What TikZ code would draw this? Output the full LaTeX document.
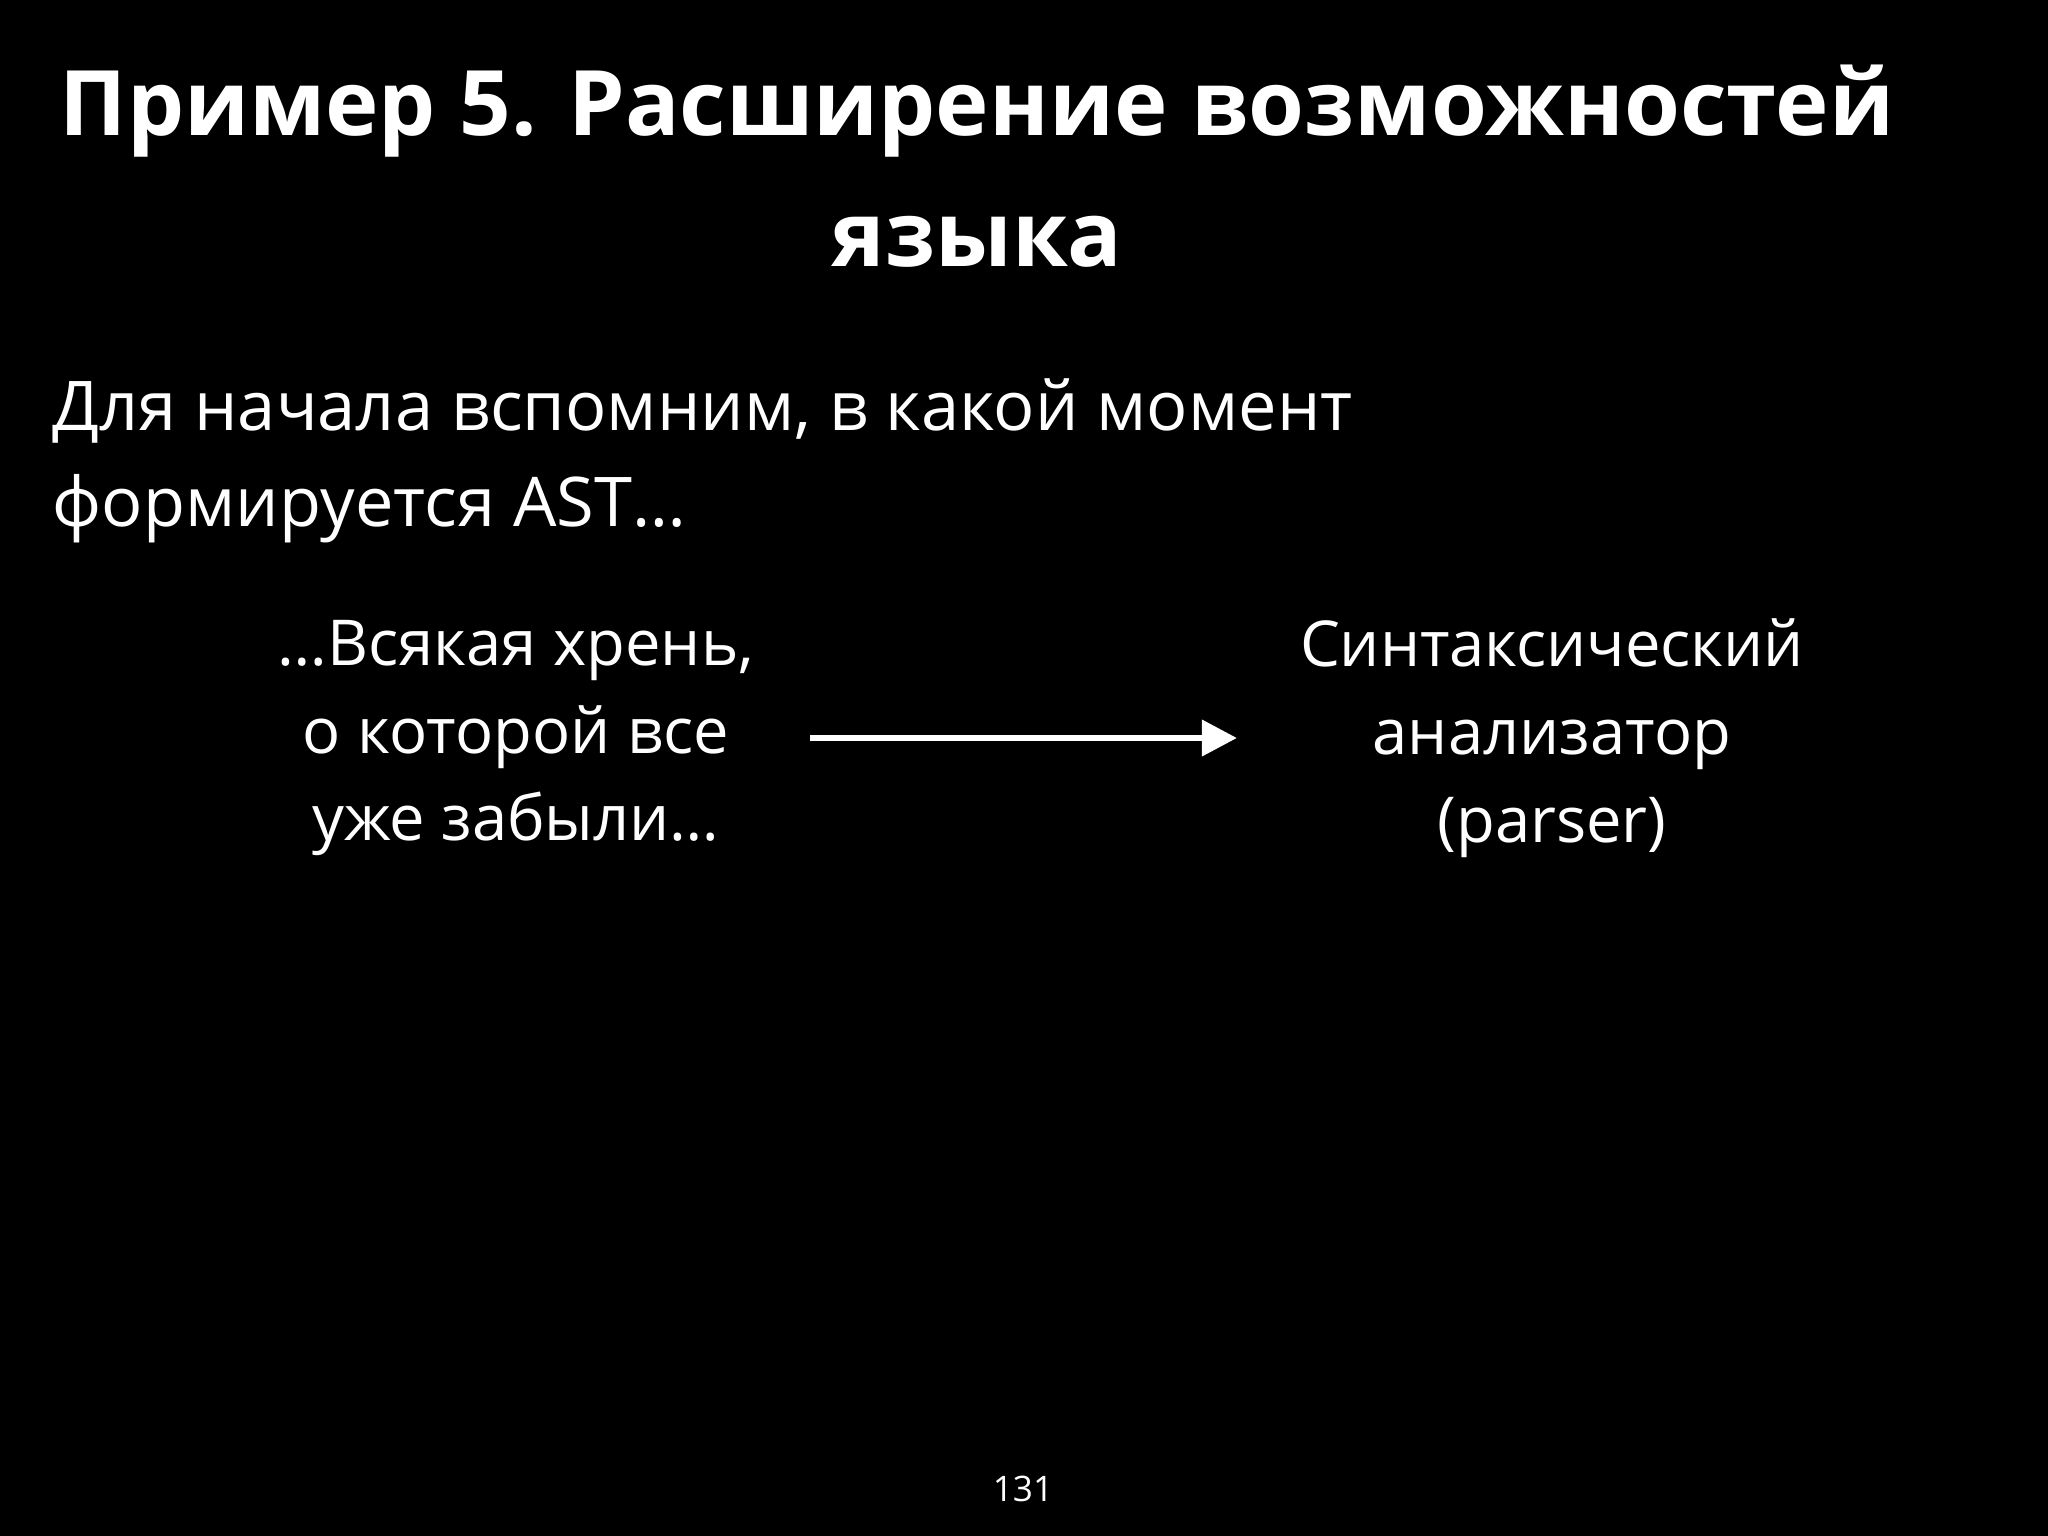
\documentclass[tikz,border=0pt]{standalone}
\usepackage{fontspec}
\setmainfont{Open Sans}
\usetikzlibrary{arrows.meta}
\begin{document}
\begin{tikzpicture}[x=0.01cm,y=-0.01cm,
  ttl/.style={text=white,font=\fontsize{25.7pt}{31pt}\selectfont\bfseries,inner sep=0},
  body/.style={text=white,font=\fontsize{19.5pt}{25pt}\selectfont,inner sep=0},
  blk/.style={text=white,font=\fontsize{18pt}{25pt}\selectfont,align=center,inner sep=0}]
\fill[black] (0,0) rectangle (2048,1536);
\useasboundingbox (0,0) rectangle (2048,1536);
\node[ttl] (t1) at (977,111) {Пример 5. Расширение возможностей};
\node[ttl] (t2) at (977,242) {языка};
\node[body,anchor=west] (b1) at (52,411) {Для начала вспомним, в какой момент};
\node[body,anchor=west] (b2) at (52,509) {формируется AST…};
\node[blk] (l) at (516,738) {…Всякая хрень,\\о которой все\\уже забыли…};
\node[blk] (r) at (1552,738) {Синтаксический\\анализатор\\(parser)};
\coordinate (a1) at (810,738);
\coordinate (a2) at (1237,738);
\draw[white,line width=1.9pt,-{Triangle[length=10pt,width=10pt]}] (a1) -- (a2);
\node[text=white,font=\fontsize{10pt}{12pt}\selectfont] (pg) at (1023,1489) {131};
\end{tikzpicture}
\end{document}
